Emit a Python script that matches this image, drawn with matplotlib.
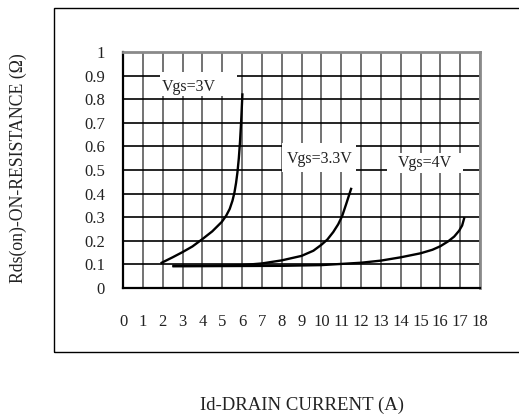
import matplotlib
matplotlib.use("Agg")
import matplotlib.pyplot as plt
from matplotlib.patches import Rectangle

# Rds(on) vs Id curves
vgs3_x = [1.95, 2.5, 3.0, 3.5, 4.0, 4.5, 4.98, 5.2, 5.38, 5.52, 5.62, 5.7, 5.77, 5.84, 5.9, 5.96, 6.02]
vgs3_y = [0.107, 0.13, 0.152, 0.176, 0.207, 0.24, 0.28, 0.306, 0.335, 0.37, 0.405, 0.445, 0.49, 0.55, 0.62, 0.71, 0.82]

vgs33_x = [2.55, 4.0, 5.0, 6.0, 7.0, 8.0, 9.0, 9.6, 10.0, 10.3, 10.6, 10.85, 11.05, 11.25, 11.5]
vgs33_y = [0.094, 0.094, 0.095, 0.097, 0.104, 0.117, 0.136, 0.158, 0.183, 0.205, 0.237, 0.27, 0.305, 0.355, 0.42]

vgs4_x = [2.55, 5.0, 8.0, 10.0, 12.0, 13.0, 14.0, 15.0, 15.6, 16.0, 16.4, 16.7, 16.95, 17.1, 17.2]
vgs4_y = [0.092, 0.093, 0.094, 0.097, 0.107, 0.116, 0.13, 0.147, 0.162, 0.177, 0.198, 0.218, 0.243, 0.265, 0.295]

curve_labels = ["Vgs=3V", "Vgs=3.3V", "Vgs=4V"]
x_ticks = list(range(0, 19))
y_ticks = [0, 0.1, 0.2, 0.3, 0.4, 0.5, 0.6, 0.7, 0.8, 0.9, 1.0]
y_ticklabels = ["0", "0.1", "0.2", "0.3", "0.4", "0.5", "0.6", "0.7", "0.8", "0.9", "1"]

plt.rcParams["font.family"] = ["Liberation Serif", "DejaVu Serif"]

W, H = 519, 416
fig = plt.figure(figsize=(W / 100, H / 100), dpi=100)

# outer frame, runs off the right edge like the reference
fig.patches.append(Rectangle((54 / W, 1 - 352 / H), 1.2, (352 - 8) / H,
                             transform=fig.transFigure, fill=False,
                             edgecolor="black", linewidth=1.0))

ax = fig.add_axes([123 / W, 1 - 288 / H, (480 - 123) / W, (288 - 52) / H])
ax.set_xlim(0, 18)
ax.set_ylim(0, 1)
ax.set_xticks(x_ticks, [str(t) for t in x_ticks])
ax.set_yticks(y_ticks, y_ticklabels)
ax.tick_params(axis="both", length=0, labelsize=12, labelcolor="#222222")
ax.tick_params(axis="x", pad=19)
ax.tick_params(axis="y", pad=13)
ax.set_axisbelow(True)
ax.grid(True, axis="x", color="#5a5a5a", linewidth=1.2)
ax.grid(True, axis="y", color="black", linewidth=1.2)

for side in ("left", "bottom"):
    ax.spines[side].set_color("black")
    ax.spines[side].set_linewidth(1.6)
for side in ("top", "right"):
    ax.spines[side].set_color("#8a8a8a")
    ax.spines[side].set_linewidth(2.0)

# white label boxes blanking out the grid
boxes = [(1.87, 0.815, 3.86, 0.10), (8.0, 0.49, 3.75, 0.123), (13.3, 0.486, 3.85, 0.086)]
text_pos = [(3.33, 0.85), (9.9, 0.547), (15.2, 0.53)]
for (bx, by, bw, bh), (tx, ty), lab in zip(boxes, text_pos, curve_labels):
    ax.add_patch(Rectangle((bx, by), bw, bh, facecolor="white", edgecolor="none", zorder=2))
    ax.text(tx, ty, lab, ha="center", va="center", fontsize=11.5,
            color="#222222", zorder=4)

ax.plot(vgs3_x, vgs3_y, color="black", linewidth=1.7, zorder=3)
ax.plot(vgs33_x, vgs33_y, color="black", linewidth=1.7, zorder=3)
ax.plot(vgs4_x, vgs4_y, color="black", linewidth=1.7, zorder=3)

fig.text(18 / W, 1 - 168 / H, "Rds(on)-ON-RESISTANCE (Ω)", rotation=90,
         ha="center", va="center", fontsize=12.8, color="#222222")
fig.text(302 / W, 1 - 405 / H, "Id-DRAIN CURRENT (A)",
         ha="center", va="center", fontsize=13.5, color="#222222")

fig.savefig("out.png", dpi=100)
